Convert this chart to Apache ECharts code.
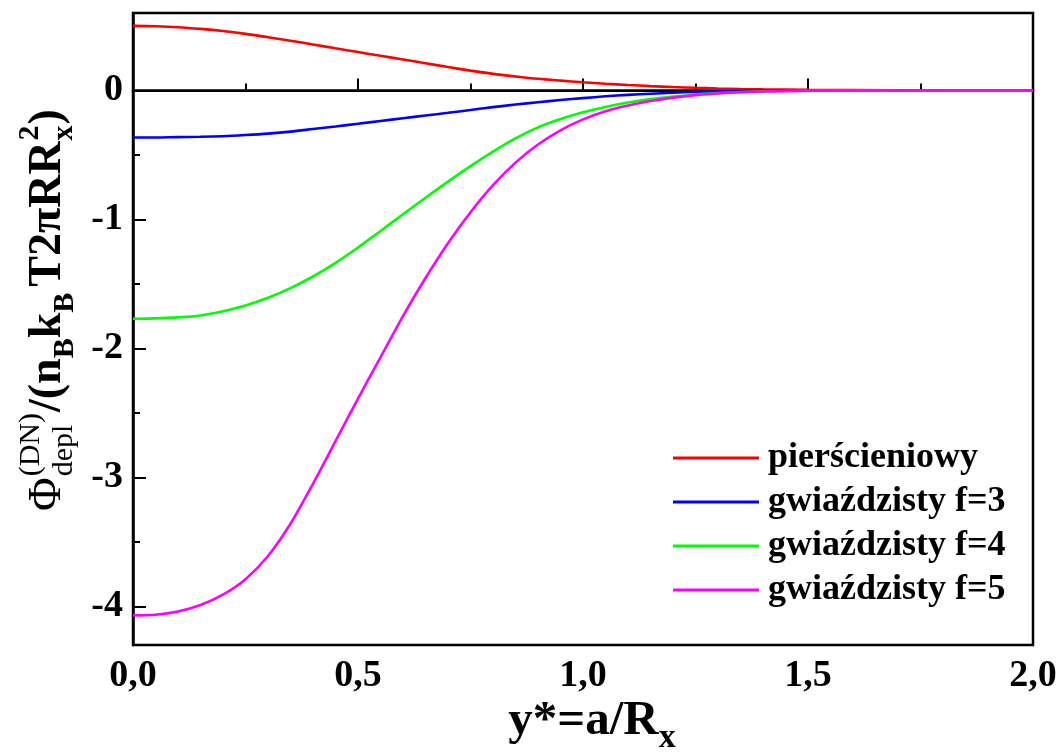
<!DOCTYPE html>
<html>
<head>
<meta charset="utf-8">
<script src="https://cdn.jsdelivr.net/npm/echarts@6/dist/echarts.min.js"></script>
<style>
  html, body { margin: 0; padding: 0; background: #fff; }
  #chart { width: 1060px; height: 753px; }
</style>
</head>
<body>
<div id="chart"></div>
<script>
// dane
var xValues = [0, 0.05, 0.1, 0.15, 0.2, 0.25, 0.3, 0.35, 0.4, 0.45, 0.5, 0.55, 0.6, 0.65, 0.7, 0.75, 0.8, 0.85, 0.9, 0.95, 1.0,
  1.05, 1.1, 1.15, 1.2, 1.25, 1.3, 1.35, 1.4, 1.5, 1.6, 1.8, 2.0];
var ringValues = [0.50, 0.497, 0.49, 0.477, 0.46, 0.438, 0.412, 0.385, 0.356, 0.326, 0.297, 0.268, 0.24, 0.211, 0.181, 0.153, 0.128, 0.108, 0.09, 0.076, 0.063,
  0.052, 0.042, 0.033, 0.026, 0.02, 0.015, 0.011, 0.008, 0.004, 0.002, 0, 0];
var starF3 = [-0.365, -0.365, -0.362, -0.36, -0.355, -0.346, -0.335, -0.32, -0.30, -0.28, -0.259, -0.237, -0.216, -0.195, -0.174, -0.152, -0.13, -0.11, -0.092, -0.075, -0.06,
  -0.046, -0.035, -0.026, -0.018, -0.012, -0.008, -0.005, -0.003, -0.001, 0, 0, 0];
var starF4 = [-1.77, -1.768, -1.76, -1.745, -1.712, -1.668, -1.608, -1.533, -1.443, -1.337, -1.218, -1.09, -0.96, -0.832, -0.707, -0.587, -0.474, -0.372, -0.287, -0.222, -0.17,
  -0.128, -0.094, -0.068, -0.048, -0.032, -0.021, -0.013, -0.008, -0.003, -0.001, 0, 0];
var starF5 = [-4.07, -4.065, -4.04, -3.99, -3.91, -3.79, -3.61, -3.36, -3.05, -2.72, -2.39, -2.07, -1.75, -1.455, -1.185, -0.945, -0.735, -0.56, -0.42, -0.31, -0.225,
  -0.162, -0.117, -0.082, -0.056, -0.037, -0.024, -0.015, -0.009, -0.003, -0.001, 0, 0];
var yMajorTicks = [-4, -3, -2, -1, 0];
var yMinorTicks = [-4.5, -3.5, -2.5, -1.5, -0.5, 0.5];
var seriesNames = ["pierścieniowy", "gwiaździsty f=3", "gwiaździsty f=4", "gwiaździsty f=5"];
var seriesColors = ["#ff0000", "#0000ff", "#00ff00", "#ff00ff"];
var seriesValues = [ringValues, starF3, starF4, starF5];

var FONT = '"Liberation Serif", "Times New Roman", serif';

function pairs(ys) {
  return xValues.map(function (x, i) { return [x, ys[i]]; });
}

// pomiar szerokosci tekstu do skladania tytulu osi
var measureCtx = document.createElement("canvas").getContext("2d");
function textWidth(text, font) {
  measureCtx.font = font;
  return measureCtx.measureText(text).width;
}

// tytul osi Y: Φ(DN)depl/(nBkBT2πRRx2) sklada sie z kawalkow
function buildYTitle() {
  var big = 46, small = 30;
  var pieces = [
    { t: "Φ", w: "normal", s: big },
    { stack: [{ t: "(DN)", w: "normal", s: small, b: -23 }, { t: "depl", w: "normal", s: small, b: 10 }] },
    { t: "/(n", w: "bold", s: big },
    { t: "B", w: "bold", s: small, b: 11 },
    { t: "k", w: "bold", s: big },
    { t: "B", w: "bold", s: small, b: 11, pad: 6 },
    { t: "T2πRR", w: "bold", s: big },
    { stack: [{ t: "2", w: "bold", s: small, b: -24 }, { t: "x", w: "bold", s: small, b: 10 }] },
    { t: ")", w: "bold", s: big }
  ];
  var children = [];
  var pos = 0;
  function put(p, at) {
    var font = p.w + " " + p.s + "px " + FONT;
    var base = p.b || 0;
    children.push({
      type: "text",
      x: at,
      y: base - 0.34 * p.s,
      style: { text: p.t, font: font, fill: "#000", align: "left", verticalAlign: "middle" }
    });
    return textWidth(p.t, font);
  }
  pieces.forEach(function (p) {
    if (p.stack) {
      var wmax = 0;
      p.stack.forEach(function (q) { wmax = Math.max(wmax, put(q, pos + 1)); });
      pos += wmax + 2;
    } else {
      pos += put(p, pos) + (p.pad || 0);
    }
  });
  var centerY = 310;
  return {
    type: "group",
    x: 64,
    y: centerY + pos / 2,
    rotation: Math.PI / 2,
    children: children
  };
}

function buildXTitle() {
  var f1 = "bold 49px " + FONT, f2 = "bold 34px " + FONT;
  var w1 = textWidth("y*=a/R", f1), w2 = textWidth("x", f2);
  var start = 592 - (w1 + w2) / 2;
  return {
    type: "group",
    x: start,
    y: 738,
    children: [
      { type: "text", x: 0, y: -17, style: { text: "y*=a/R", font: f1, fill: "#000", align: "left", verticalAlign: "middle" } },
      { type: "text", x: w1, y: 0, style: { text: "x", font: f2, fill: "#000", align: "left", verticalAlign: "middle" } }
    ]
  };
}

var chart = echarts.init(document.getElementById("chart"), null, { renderer: "canvas" });

var series = seriesNames.map(function (name, i) {
  return {
    name: name,
    type: "line",
    data: pairs(seriesValues[i]),
    showSymbol: false,
    smooth: 0.3,
    lineStyle: { color: seriesColors[i], width: 2.6 },
    itemStyle: { color: seriesColors[i] },
    z: 3 + i
  };
});
// linia zera
series[0].markLine = {
  silent: true,
  symbol: "none",
  label: { show: false },
  lineStyle: { color: "#000", width: 2, type: "solid" },
  data: [{ yAxis: 0 }],
  z: 1
};

var option = {
  animation: false,
  backgroundColor: "#fff",
  grid: {
    left: 133, right: 27, top: 13, bottom: 108,
    show: true, borderColor: "#000", borderWidth: 2.5, backgroundColor: "transparent"
  },
  xAxis: {
    type: "value",
    min: 0, max: 2, interval: 0.5,
    axisLine: { show: true, lineStyle: { color: "#000", width: 2.5 } },
    axisTick: { show: true, inside: true, length: 12, lineStyle: { color: "#000", width: 2 } },
    minorTick: { show: true, splitNumber: 2, length: 7, lineStyle: { color: "#000", width: 2 } },
    splitLine: { show: false },
    axisLabel: {
      color: "#000", fontFamily: FONT, fontWeight: "bold", fontSize: 38, margin: 12,
      formatter: function (v) { return v.toFixed(1).replace(".", ","); }
    }
  },
  yAxis: [{
    type: "value",
    min: -4.3, max: 0.6,
    axisLine: { show: true, lineStyle: { color: "#000", width: 2.5 } },
    axisTick: { show: true, inside: true, length: 13, customValues: yMajorTicks, lineStyle: { color: "#000", width: 2 } },
    splitLine: { show: false },
    axisLabel: {
      color: "#000", fontFamily: FONT, fontWeight: "bold", fontSize: 38, margin: 10,
      customValues: yMajorTicks,
      formatter: function (v) { return String(v); }
    }
  }, {
    type: "value",
    min: -4.3, max: 0.6,
    position: "left",
    axisLine: { show: false },
    axisTick: { show: true, inside: true, length: 7, customValues: yMinorTicks, lineStyle: { color: "#000", width: 2 } },
    axisLabel: { show: false },
    splitLine: { show: false }
  }],
  legend: {
    orient: "vertical",
    left: 673, top: 436,
    padding: 0,
    itemWidth: 86, itemHeight: 3, itemGap: 0,
    icon: "rect",
    data: seriesNames,
    textStyle: { color: "#000", fontFamily: FONT, fontWeight: "bold", fontSize: 36, lineHeight: 44, padding: [0, 0, 0, 4] }
  },
  graphic: [buildYTitle(), buildXTitle()],
  series: series
};

chart.setOption(option);
</script>
</body>
</html>
